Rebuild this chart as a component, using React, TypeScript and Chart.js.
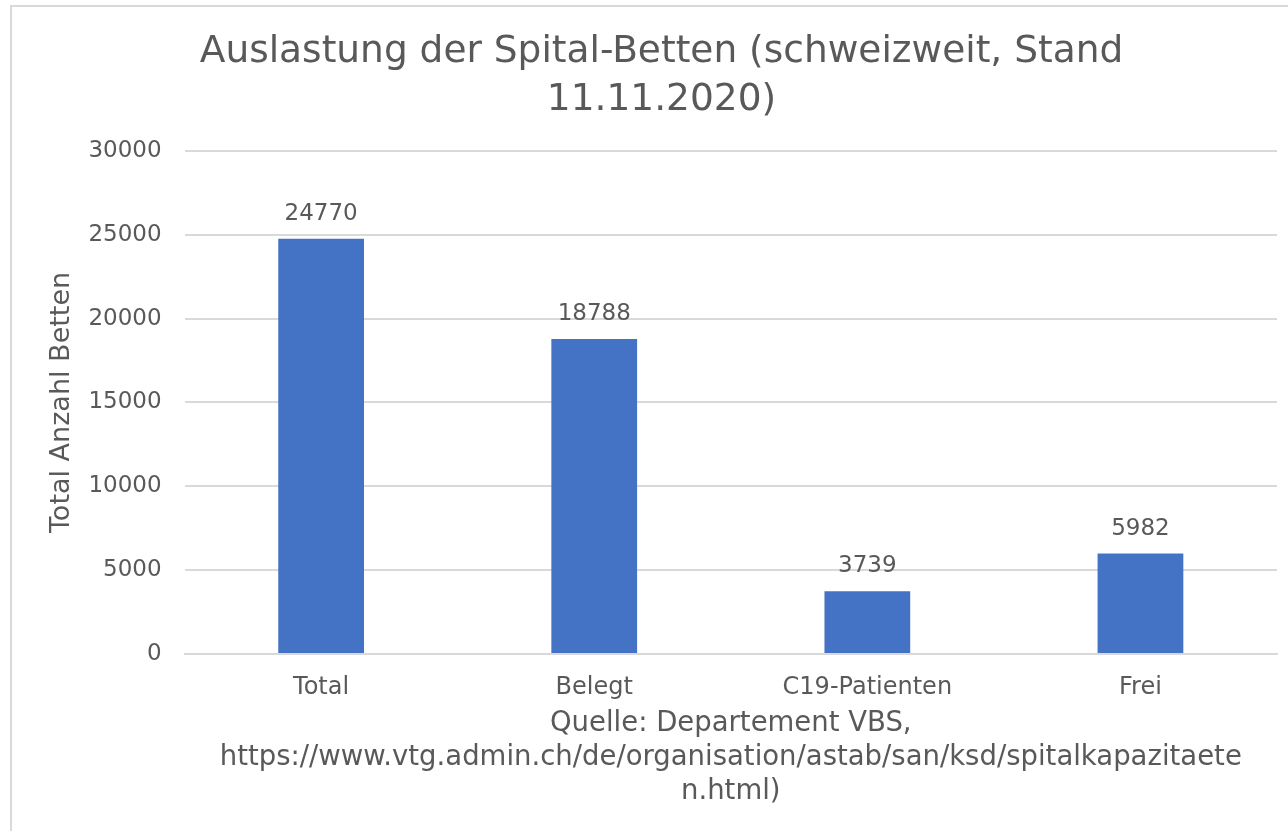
import React, { useEffect, useRef } from "react";
import { Chart, registerables } from "chart.js";

Chart.register(...registerables);

const categories = ["Total", "Belegt", "C19-Patienten", "Frei"];
const bedCounts = [24770, 18788, 3739, 5982];
const yTicks = [0, 5000, 10000, 15000, 20000, 25000, 30000];
const titleLines = ["Auslastung der Spital-Betten (schweizweit, Stand", "11.11.2020)"];
const yAxisTitle = "Total Anzahl Betten";
const xAxisTitleLines = [
  "Quelle: Departement VBS,",
  "https://www.vtg.admin.ch/de/organisation/astab/san/ksd/spitalkapazitaete",
  "n.html)",
];

const FONT = "'DejaVu Sans', Verdana, sans-serif";
const TEXT = "#595959";
const GRID = "#D9D9D9";
const BAR = "#4472C4";

const valueLabels = {
  id: "valueLabels",
  afterDatasetsDraw(chart: any) {
    const ctx = chart.ctx;
    const meta = chart.getDatasetMeta(0);
    ctx.save();
    ctx.font = `23px ${FONT}`;
    ctx.fillStyle = TEXT;
    ctx.textAlign = "center";
    ctx.textBaseline = "middle";
    meta.data.forEach((el: any, i: number) => {
      ctx.fillText(String(chart.data.datasets[0].data[i]), el.x, el.y - 25);
    });
    ctx.restore();
  },
};

export default function App() {
  const ref = useRef<HTMLCanvasElement | null>(null);
  useEffect(() => {
    if (!ref.current) return;
    const chart = new Chart(ref.current, {
      type: "bar",
      data: {
        labels: categories,
        datasets: [
          {
            data: bedCounts,
            backgroundColor: BAR,
            barPercentage: 1,
            categoryPercentage: 0.314,
          },
        ],
      },
      options: {
        animation: false,
        responsive: false,
        maintainAspectRatio: false,
        layout: { padding: { top: 0, right: 11, bottom: 22, left: 46 } },
        plugins: {
          legend: { display: false },
          tooltip: { enabled: false },
          title: {
            display: true,
            text: titleLines,
            color: TEXT,
            font: { family: FONT, size: 37.5, weight: "normal", lineHeight: 1.28 },
            padding: { top: 28, bottom: 27 },
          },
        },
        scales: {
          x: {
            grid: { display: false, drawTicks: false },
            border: { display: true, color: GRID, width: 2 },
            ticks: { color: TEXT, font: { family: FONT, size: 24 }, padding: 19 },
            title: {
              display: true,
              text: xAxisTitleLines,
              color: TEXT,
              font: { family: FONT, size: 27.5, lineHeight: 1.24 },
              padding: { top: -14, bottom: 0 },
            },
          },
          y: {
            min: yTicks[0],
            max: yTicks[yTicks.length - 1],
            afterBuildTicks: (axis: any) => {
              axis.ticks = yTicks.map((v) => ({ value: v }));
            },
            ticks: {
              color: TEXT,
              font: { family: FONT, size: 23 },
              padding: 23,
              callback: (v: any) => String(v),
            },
            grid: { color: GRID, lineWidth: 2, drawTicks: false },
            border: { display: false },
            title: {
              display: true,
              text: yAxisTitle,
              color: TEXT,
              font: { family: FONT, size: 27 },
              padding: { top: 0, bottom: -13 },
            },
          },
        },
      },
      plugins: [valueLabels],
    });
    return () => chart.destroy();
  }, []);
  return (
    <div style={{ position: "fixed", left: 0, top: 0, width: 1288, height: 831, background: "#fff", overflow: "hidden" }}>
      <div
        style={{
          position: "absolute",
          left: 10,
          top: 5,
          width: 1290,
          height: 840,
          borderTop: "2px solid #D9D9D9",
          borderLeft: "2px solid #D9D9D9",
        }}
      />
      <canvas ref={ref} width={1288} height={831} style={{ position: "absolute", left: 0, top: 0 }} />
    </div>
  );
}
